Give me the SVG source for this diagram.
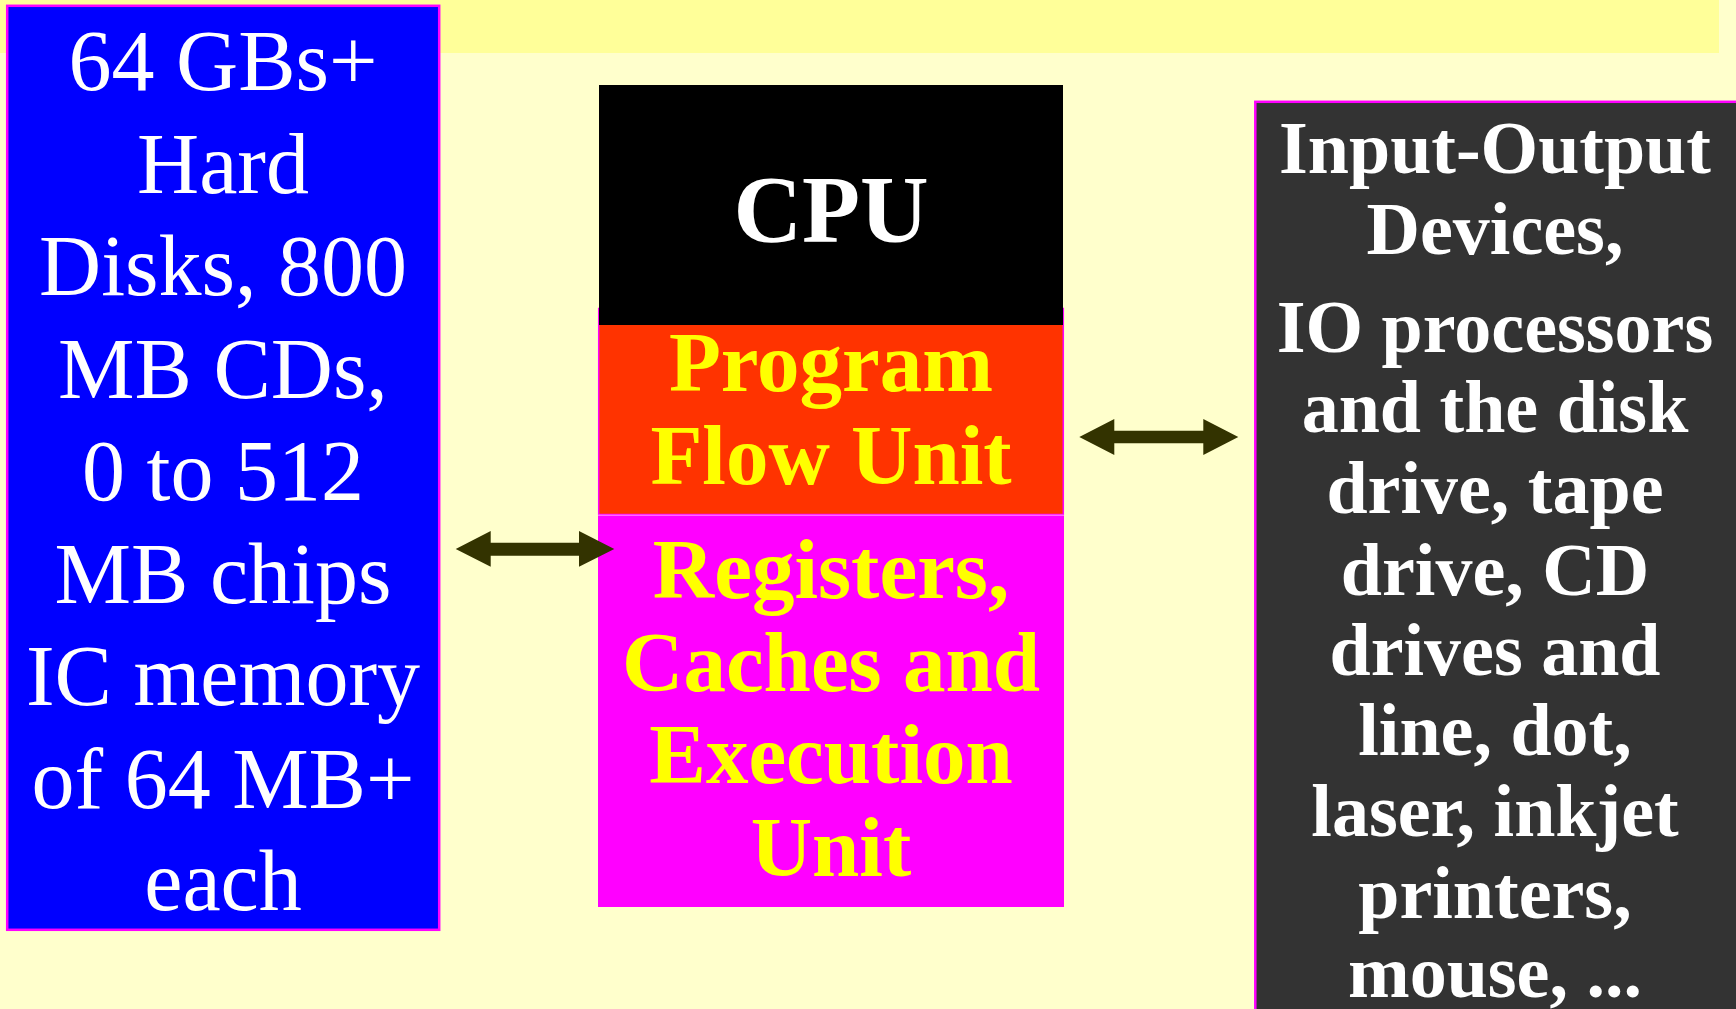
<svg xmlns="http://www.w3.org/2000/svg" width="1736" height="1009" viewBox="0 0 1736 1009">
  <style>
    text { font-family: "Liberation Serif", "Times New Roman", serif; text-anchor: middle; }
    .mem { font-size: 86px; fill: #FFFFFF; }
    .cpu { font-size: 95px; font-weight: bold; fill: #FFFFFF; }
    .unit { font-size: 85px; font-weight: bold; fill: #FFFF00; }
    .io { font-size: 74px; font-weight: bold; fill: #FFFFFF; }
    .arrow { fill: #333300; }
  </style>

  <!-- page background and title band -->
  <rect x="0" y="0" width="1736" height="1009" fill="#FFFFCC"/>
  <rect x="0" y="0" width="1719" height="53" fill="#FFFF99"/>

  <!-- memory block -->
  <g id="memory">
    <rect x="7.2" y="5.8" width="432" height="924" fill="#0000FF" stroke="#FF00FF" stroke-width="2.5"/>
    <g class="mem">
      <text x="223" y="90">64 GBs+</text>
      <text x="223" y="192.5">Hard</text>
      <text x="223" y="295">Disks, 800</text>
      <text x="223" y="397.5">MB CDs,</text>
      <text x="223" y="500">0 to 512</text>
      <text x="223" y="602.5">MB chips</text>
      <text x="223" y="705">IC memory</text>
      <text x="223" y="807.5">of 64 MB+</text>
      <text x="223" y="910">each</text>
    </g>
  </g>

  <!-- program flow unit (drawn first, CPU header overlaps its top) -->
  <g id="program-flow-unit">
    <rect x="598.7" y="308.5" width="464.6" height="206" fill="#FF3300" stroke="#FF00FF" stroke-width="1.5"/>
    <g class="unit">
      <text x="831" y="391">Program</text>
      <text x="831" y="484">Flow Unit</text>
    </g>
  </g>

  <!-- CPU header -->
  <g id="cpu">
    <rect x="599" y="85" width="464" height="240" fill="#000000"/>
    <text class="cpu" x="831" y="242">CPU</text>
  </g>

  <!-- registers / caches / execution unit -->
  <g id="execution-unit">
    <rect x="598" y="515" width="466" height="392" fill="#FF00FF"/>
    <line x1="598" y1="515.2" x2="1064" y2="515.2" stroke="#FF99FF" stroke-width="1"/>
    <g class="unit">
      <text x="831" y="598">Registers,</text>
      <text x="831" y="691">Caches and</text>
      <text x="831" y="783">Execution</text>
      <text x="831" y="876">Unit</text>
    </g>
  </g>

  <!-- input-output devices -->
  <g id="io-devices">
    <rect x="1255.3" y="101.8" width="482" height="1000" fill="#333333" stroke="#FF00FF" stroke-width="2.5"/>
    <g class="io">
      <text x="1495" y="173">Input-Output</text>
      <text x="1495" y="254">Devices,</text>
      <text x="1495" y="352">IO processors</text>
      <text x="1495" y="432">and the disk</text>
      <text x="1495" y="513">drive, tape</text>
      <text x="1495" y="595">drive, CD</text>
      <text x="1495" y="675">drives and</text>
      <text x="1495" y="755">line, dot,</text>
      <text x="1495" y="836">laser, inkjet</text>
      <text x="1495" y="918">printers,</text>
      <text x="1495" y="997">mouse, ...</text>
    </g>
  </g>

  <!-- two-way connectors -->
  <g id="connectors">
    <polygon class="arrow" points="455.7,549 490.7,531 490.7,542.7 579,542.7 579,531 614.3,549 579,566.7 579,555.7 490.7,555.7 490.7,566.7"/>
    <polygon class="arrow" points="1079.3,437 1114.3,419 1114.3,430.7 1203.3,430.7 1203.3,419 1238.3,437 1203.3,455 1203.3,443.3 1114.3,443.3 1114.3,455"/>
  </g>
</svg>
